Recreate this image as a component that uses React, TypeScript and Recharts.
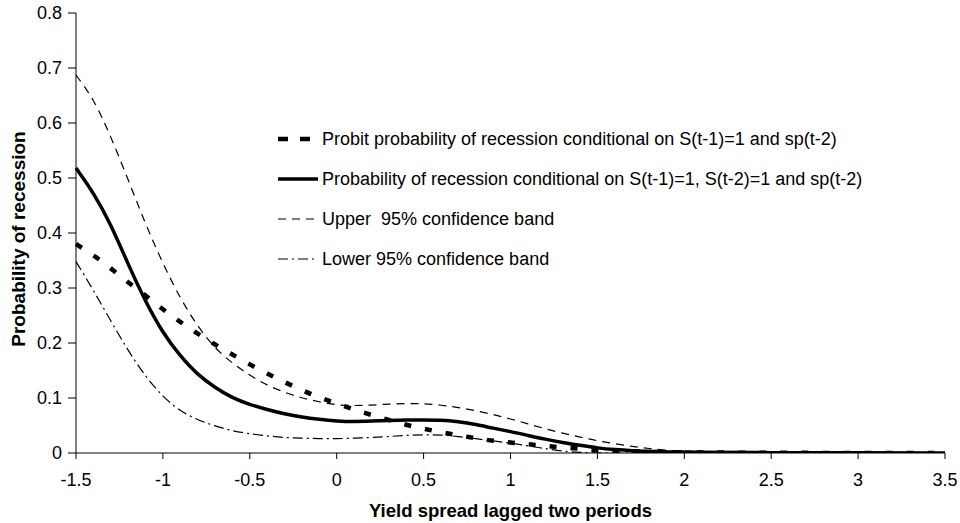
import { LineChart, Line, XAxis, YAxis } from "recharts";

const XS = [
  -1.5, -1.4, -1.3, -1.2, -1.1, -1.0, -0.9, -0.8, -0.7, -0.6, -0.5, -0.4, -0.3,
  -0.2, -0.1, 0.0, 0.1, 0.2, 0.3, 0.4, 0.5, 0.6, 0.7, 0.8, 0.9, 1.0, 1.1, 1.2,
  1.3, 1.4, 1.5, 1.6, 1.7, 1.8, 1.9, 2.0, 2.5, 3.0, 3.5,
];

const PROBIT = [
  0.380, 0.360, 0.336, 0.310, 0.287, 0.261, 0.238, 0.217, 0.197, 0.179, 0.161,
  0.144, 0.129, 0.114, 0.101, 0.090, 0.079, 0.069, 0.060, 0.051, 0.044, 0.038,
  0.032, 0.027, 0.022, 0.019, 0.016, 0.013, 0.010, 0.008, 0.005, 0.004, 0.003,
  0.002, 0.0015, 0.001, 0.0003, 0.0001, 0.0,
];

const MAIN = [
  0.518, 0.474, 0.416, 0.343, 0.275, 0.218, 0.176, 0.142, 0.119, 0.100, 0.088,
  0.079, 0.071, 0.065, 0.061, 0.058, 0.057, 0.058, 0.059, 0.060, 0.060, 0.060,
  0.057, 0.052, 0.045, 0.039, 0.032, 0.025, 0.019, 0.014, 0.009, 0.006, 0.004,
  0.003, 0.002, 0.0015, 0.0005, 0.0002, 0.0001,
];

const UPPER = [
  0.687, 0.645, 0.576, 0.497, 0.416, 0.344, 0.281, 0.230, 0.190, 0.163, 0.141,
  0.123, 0.110, 0.100, 0.093, 0.087, 0.086, 0.087, 0.089, 0.090, 0.090, 0.087,
  0.083, 0.077, 0.070, 0.062, 0.053, 0.044, 0.036, 0.029, 0.022, 0.017, 0.012,
  0.008, 0.005, 0.003, 0.001, 0.0003, 0.0001,
];

const LOWER = [
  0.348, 0.296, 0.240, 0.186, 0.139, 0.102, 0.076, 0.060, 0.049, 0.040, 0.035,
  0.031, 0.028, 0.027, 0.026, 0.026, 0.027, 0.028, 0.030, 0.032, 0.033, 0.033,
  0.030, 0.026, 0.022, 0.018, 0.013, 0.008, 0.003, 0.001, 0.0, 0.0, 0.0, 0.0,
  0.0, 0.0, 0.0, 0.0, 0.0,
];

const X_TICKS = [-1.5, -1, -0.5, 0, 0.5, 1, 1.5, 2, 2.5, 3, 3.5];
const Y_TICKS = [0, 0.1, 0.2, 0.3, 0.4, 0.5, 0.6, 0.7, 0.8];

const SERIES = [
  { key: "probit", label: "Probit probability of recession conditional on S(t-1)=1 and sp(t-2)", width: 4.5, dash: "7 14", legendDash: "10 12" },
  { key: "main", label: "Probability of recession conditional on S(t-1)=1, S(t-2)=1 and sp(t-2)", width: 3.5, dash: undefined, legendDash: undefined },
  { key: "upper", label: "Upper  95% confidence band", width: 1.2, dash: "8 6", legendDash: "8 6" },
  { key: "lower", label: "Lower 95% confidence band", width: 1.2, dash: "10 4 2 4", legendDash: "10 4 2 4" },
] as const;

const data = XS.map((x, i) => ({
  x,
  probit: PROBIT[i],
  main: MAIN[i],
  upper: UPPER[i],
  lower: LOWER[i],
}));

const FONT = "'Liberation Sans', Arial, sans-serif";

function LegendBox() {
  return (
    <div
      style={{
        position: "absolute",
        left: 276,
        top: 119,
        fontFamily: FONT,
        fontSize: 18,
        color: "#000",
      }}
    >
      {SERIES.map((s) => (
        <div key={s.key} style={{ display: "flex", alignItems: "center", height: 40, whiteSpace: "pre" }}>
          <svg width={44} height={10} style={{ marginRight: 2 }}>
            <line x1={2} x2={42} y1={5} y2={5} stroke="#000" strokeWidth={s.width} strokeDasharray={s.legendDash} />
          </svg>
          <span>{s.label}</span>
        </div>
      ))}
    </div>
  );
}

export default function App() {
  return (
    <div style={{ position: "relative", width: 960, height: 523 }}>
      <style>{`body{margin:0;background:#fff}`}</style>
      <LineChart
        width={960}
        height={523}
        data={data}
        margin={{ top: 13, right: 15, bottom: 0, left: 0 }}
      >
        <XAxis
          dataKey="x"
          type="number"
          domain={[-1.5, 3.5]}
          ticks={X_TICKS}
          height={70}
          tickSize={6}
          tickMargin={14}
          stroke="#000"
          tick={{ fill: "#000", fontSize: 18, fontFamily: FONT }}
          label={{
            value: "Yield spread lagged two periods",
            position: "insideBottom",
            offset: 6,
            style: { fontWeight: "bold", fontSize: 18.5, fontFamily: FONT, fill: "#000" },
          }}
        />
        <YAxis
          type="number"
          domain={[0, 0.8]}
          ticks={Y_TICKS}
          width={76}
          tickSize={8}
          tickMargin={6}
          stroke="#000"
          allowDataOverflow
          tick={{ fill: "#000", fontSize: 18, fontFamily: FONT }}
          label={{
            value: "Probability of recession",
            angle: -90,
            position: "insideLeft",
            offset: 18,
            dy: 6,
            style: { textAnchor: "middle", fontWeight: "bold", fontSize: 19, fontFamily: FONT, fill: "#000" },
          }}
        />
        {SERIES.map((s) => (
          <Line
            key={s.key}
            dataKey={s.key}
            type="basis"
            stroke="#000"
            strokeWidth={s.width}
            strokeDasharray={s.dash}
            dot={false}
            activeDot={false}
            isAnimationActive={false}
          />
        ))}
      </LineChart>
      <LegendBox />
    </div>
  );
}
